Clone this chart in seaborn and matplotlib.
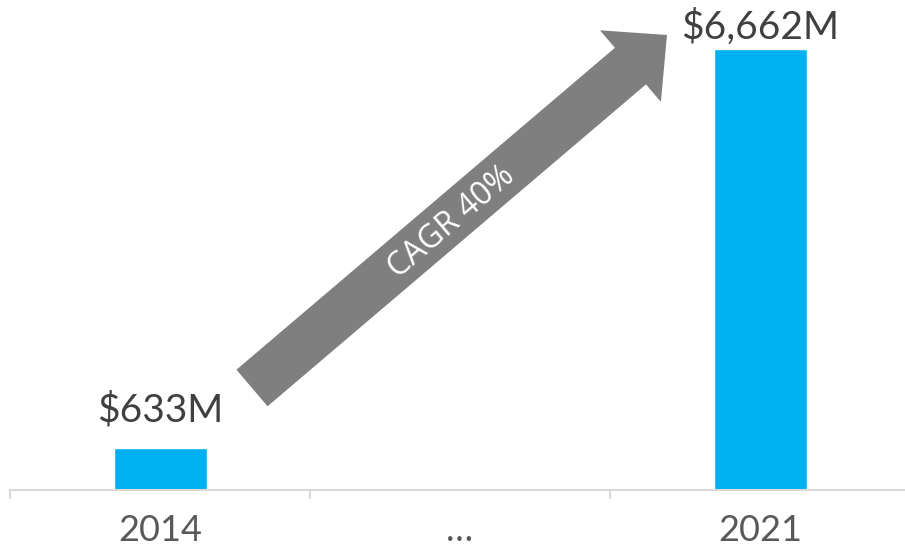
import numpy as np
import pandas as pd
import matplotlib
matplotlib.use("Agg")
import matplotlib.pyplot as plt
from matplotlib.patches import Polygon
import seaborn as sns

# ---- data ----
categories = ["2014", "…", "2021"]
bar_years = ["2014", "2021"]
bar_values = [633, 6662]
bar_labels = ["$633M", "$6,662M"]
cagr_text = "CAGR 40%"

sns.set_theme(style="white")
plt.rcParams["font.family"] = ["Lato", "DejaVu Sans"]

W, H = 905, 553
fig = plt.figure(figsize=(W / 100, H / 100), dpi=100)
fig.patch.set_facecolor("white")
# axes: x from 10px to 910px, y from 0 to 490px (image coords)
ax = fig.add_axes([10 / W, (H - 490) / H, 900 / W, 490 / H])

df = pd.DataFrame({"year": bar_years, "value": bar_values})
sns.barplot(data=df, x="year", y="value", order=categories, color="#00B0F0",
            saturation=1, width=0.31, ax=ax)

ax.set_xlim(-0.5, 2.5)
ax.set_ylim(0, 7400)
ax.set_xlabel("")
ax.set_ylabel("")
ax.set_yticks([])
for s in ["top", "left", "right"]:
    ax.spines[s].set_visible(False)
ax.spines["bottom"].set_color("#D9D9D9")
ax.spines["bottom"].set_linewidth(1.5)
ax.set_xticks(range(len(categories)))
ax.set_xticklabels(categories)
ax.set_xticks([-0.5, 0.5, 1.5, 2.5], minor=True)
ax.tick_params(axis="x", which="major", length=0, pad=17, labelsize=26,
               labelcolor="#595959")
ax.tick_params(axis="x", which="minor", length=6.5, width=1.5, color="#D9D9D9",
               direction="out", bottom=True)

# value labels
offsets = [14, 2]
for yr, v, lab, off in zip(bar_years, bar_values, bar_labels, offsets):
    xi = categories.index(yr)
    ax.annotate(lab, (xi, v), xytext=(0, off), textcoords="offset points",
                ha="center", va="bottom", fontsize=28, color="#404040")

# CAGR arrow (image pixel geometry)
tail = np.array([252.0, 388.0])
tip = np.array([667.0, 35.0])
d = tip - tail
L = np.hypot(*d)
u = d / L
n = np.array([u[1], -u[0]])
shaft_w, head_w, head_l = 48.0, 94.0, 48.0
base = tip - u * head_l
pts = [tail + n * shaft_w / 2, base + n * shaft_w / 2, base + n * head_w / 2, tip,
       base - n * head_w / 2, base - n * shaft_w / 2, tail - n * shaft_w / 2]
pts_fig = [(p[0] / W, 1 - p[1] / H) for p in pts]
fig.patches.append(Polygon(pts_fig, closed=True, transform=fig.transFigure,
                           facecolor="#7F7F7F", edgecolor="none", zorder=5))
ang = np.degrees(np.arctan2(-d[1], d[0]))
cx, cy = 452, 222
fig.text(cx / W, 1 - cy / H, cagr_text, rotation=ang, rotation_mode="anchor",
         ha="center", va="center", fontsize=23, color="white",
         family=["Open Sans", "DejaVu Sans"], zorder=6)

fig.savefig("out.png", dpi=100, facecolor="white")
